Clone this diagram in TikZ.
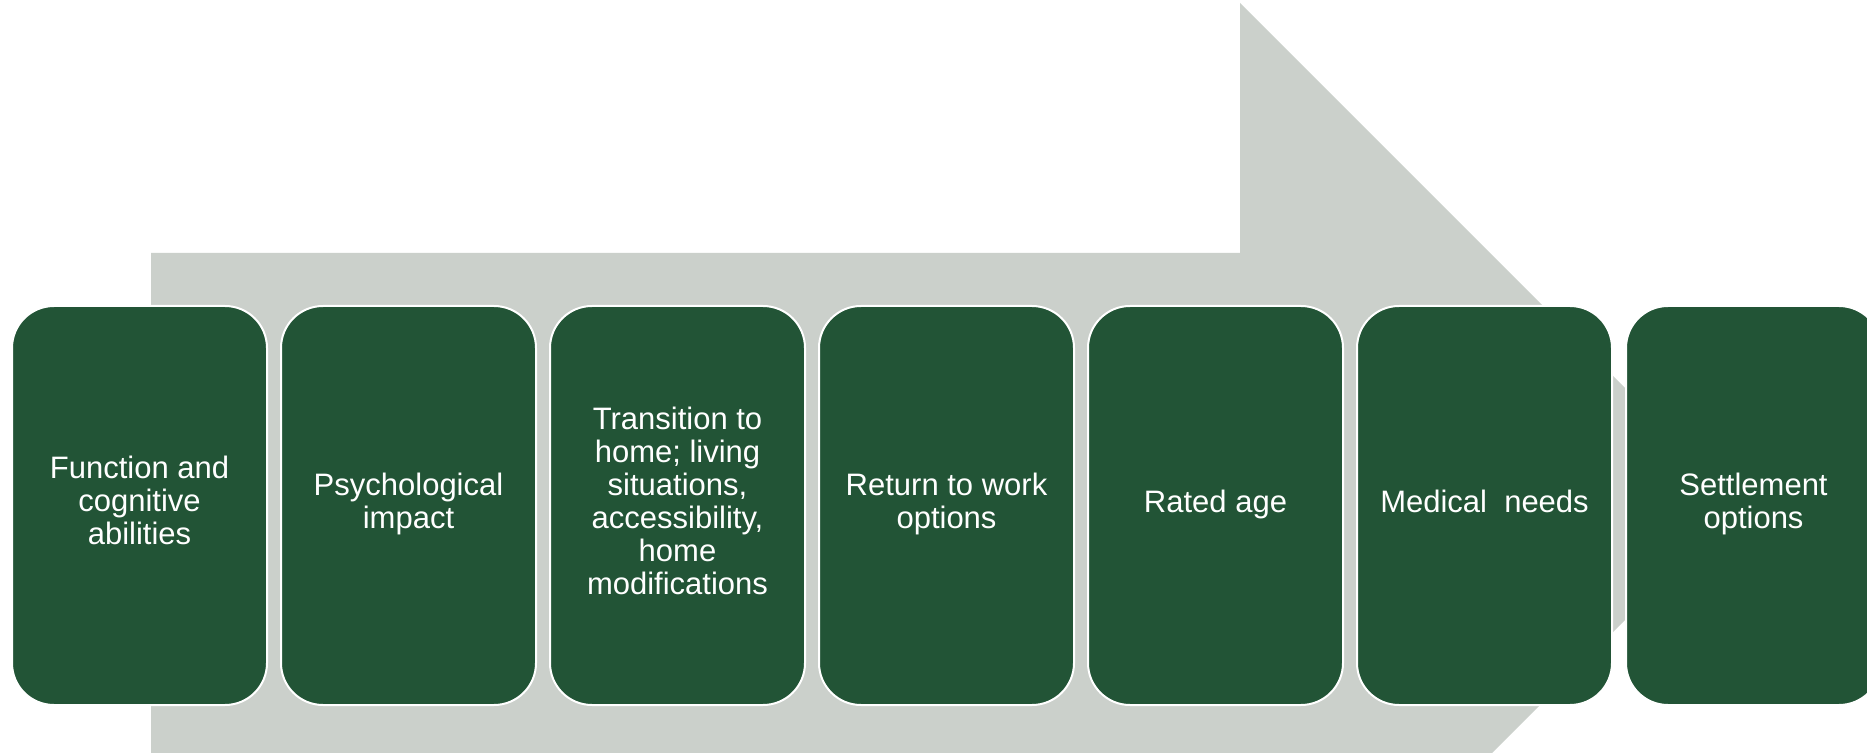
\documentclass[tikz,border=0pt]{standalone}
\usepackage{fontspec}
\setmainfont{Liberation Sans}
\definecolor{arrowgray}{RGB}{203,208,203}
\definecolor{boxgreen}{RGB}{34,84,54}
\begin{document}
\begin{tikzpicture}[x=0.5pt,y=-0.5pt,
  stepbox/.style={draw=white, line width=1pt, fill=boxgreen, rounded corners=21pt,
    minimum width=127.5pt, minimum height=199.5pt, text=white, align=center,
    font=\fontsize{15.5}{16.5}\selectfont, inner sep=0pt,
    execute at begin node=\strut, execute at end node=\strut}]
\useasboundingbox (0,0) rectangle (1867,753);
\clip (0,0) rectangle (1867,753);
\fill[arrowgray] (151,253) -- (1240,253) -- (1240,3) -- (1741,504) -- (1240,1005) -- (1240,755) -- (151,755) -- cycle;
\node[stepbox] (b1) at (139.5,505.5) {Function and\\cognitive\\abilities};
\node[stepbox] (b2) at (408.5,505.5) {Psychological\\impact};
\node[stepbox] (b3) at (677.5,505.5) {Transition to\\home; living\\situations,\\accessibility,\\home\\modifications};
\node[stepbox] (b4) at (946.5,505.5) {Return to work\\options};
\node[stepbox] (b5) at (1215.5,505.5) {Rated age};
\node[stepbox] (b6) at (1484.5,505.5) {Medical\ \ needs};
\node[stepbox] (b7) at (1753.5,505.5) {Settlement\\options};
\end{tikzpicture}
\end{document}
